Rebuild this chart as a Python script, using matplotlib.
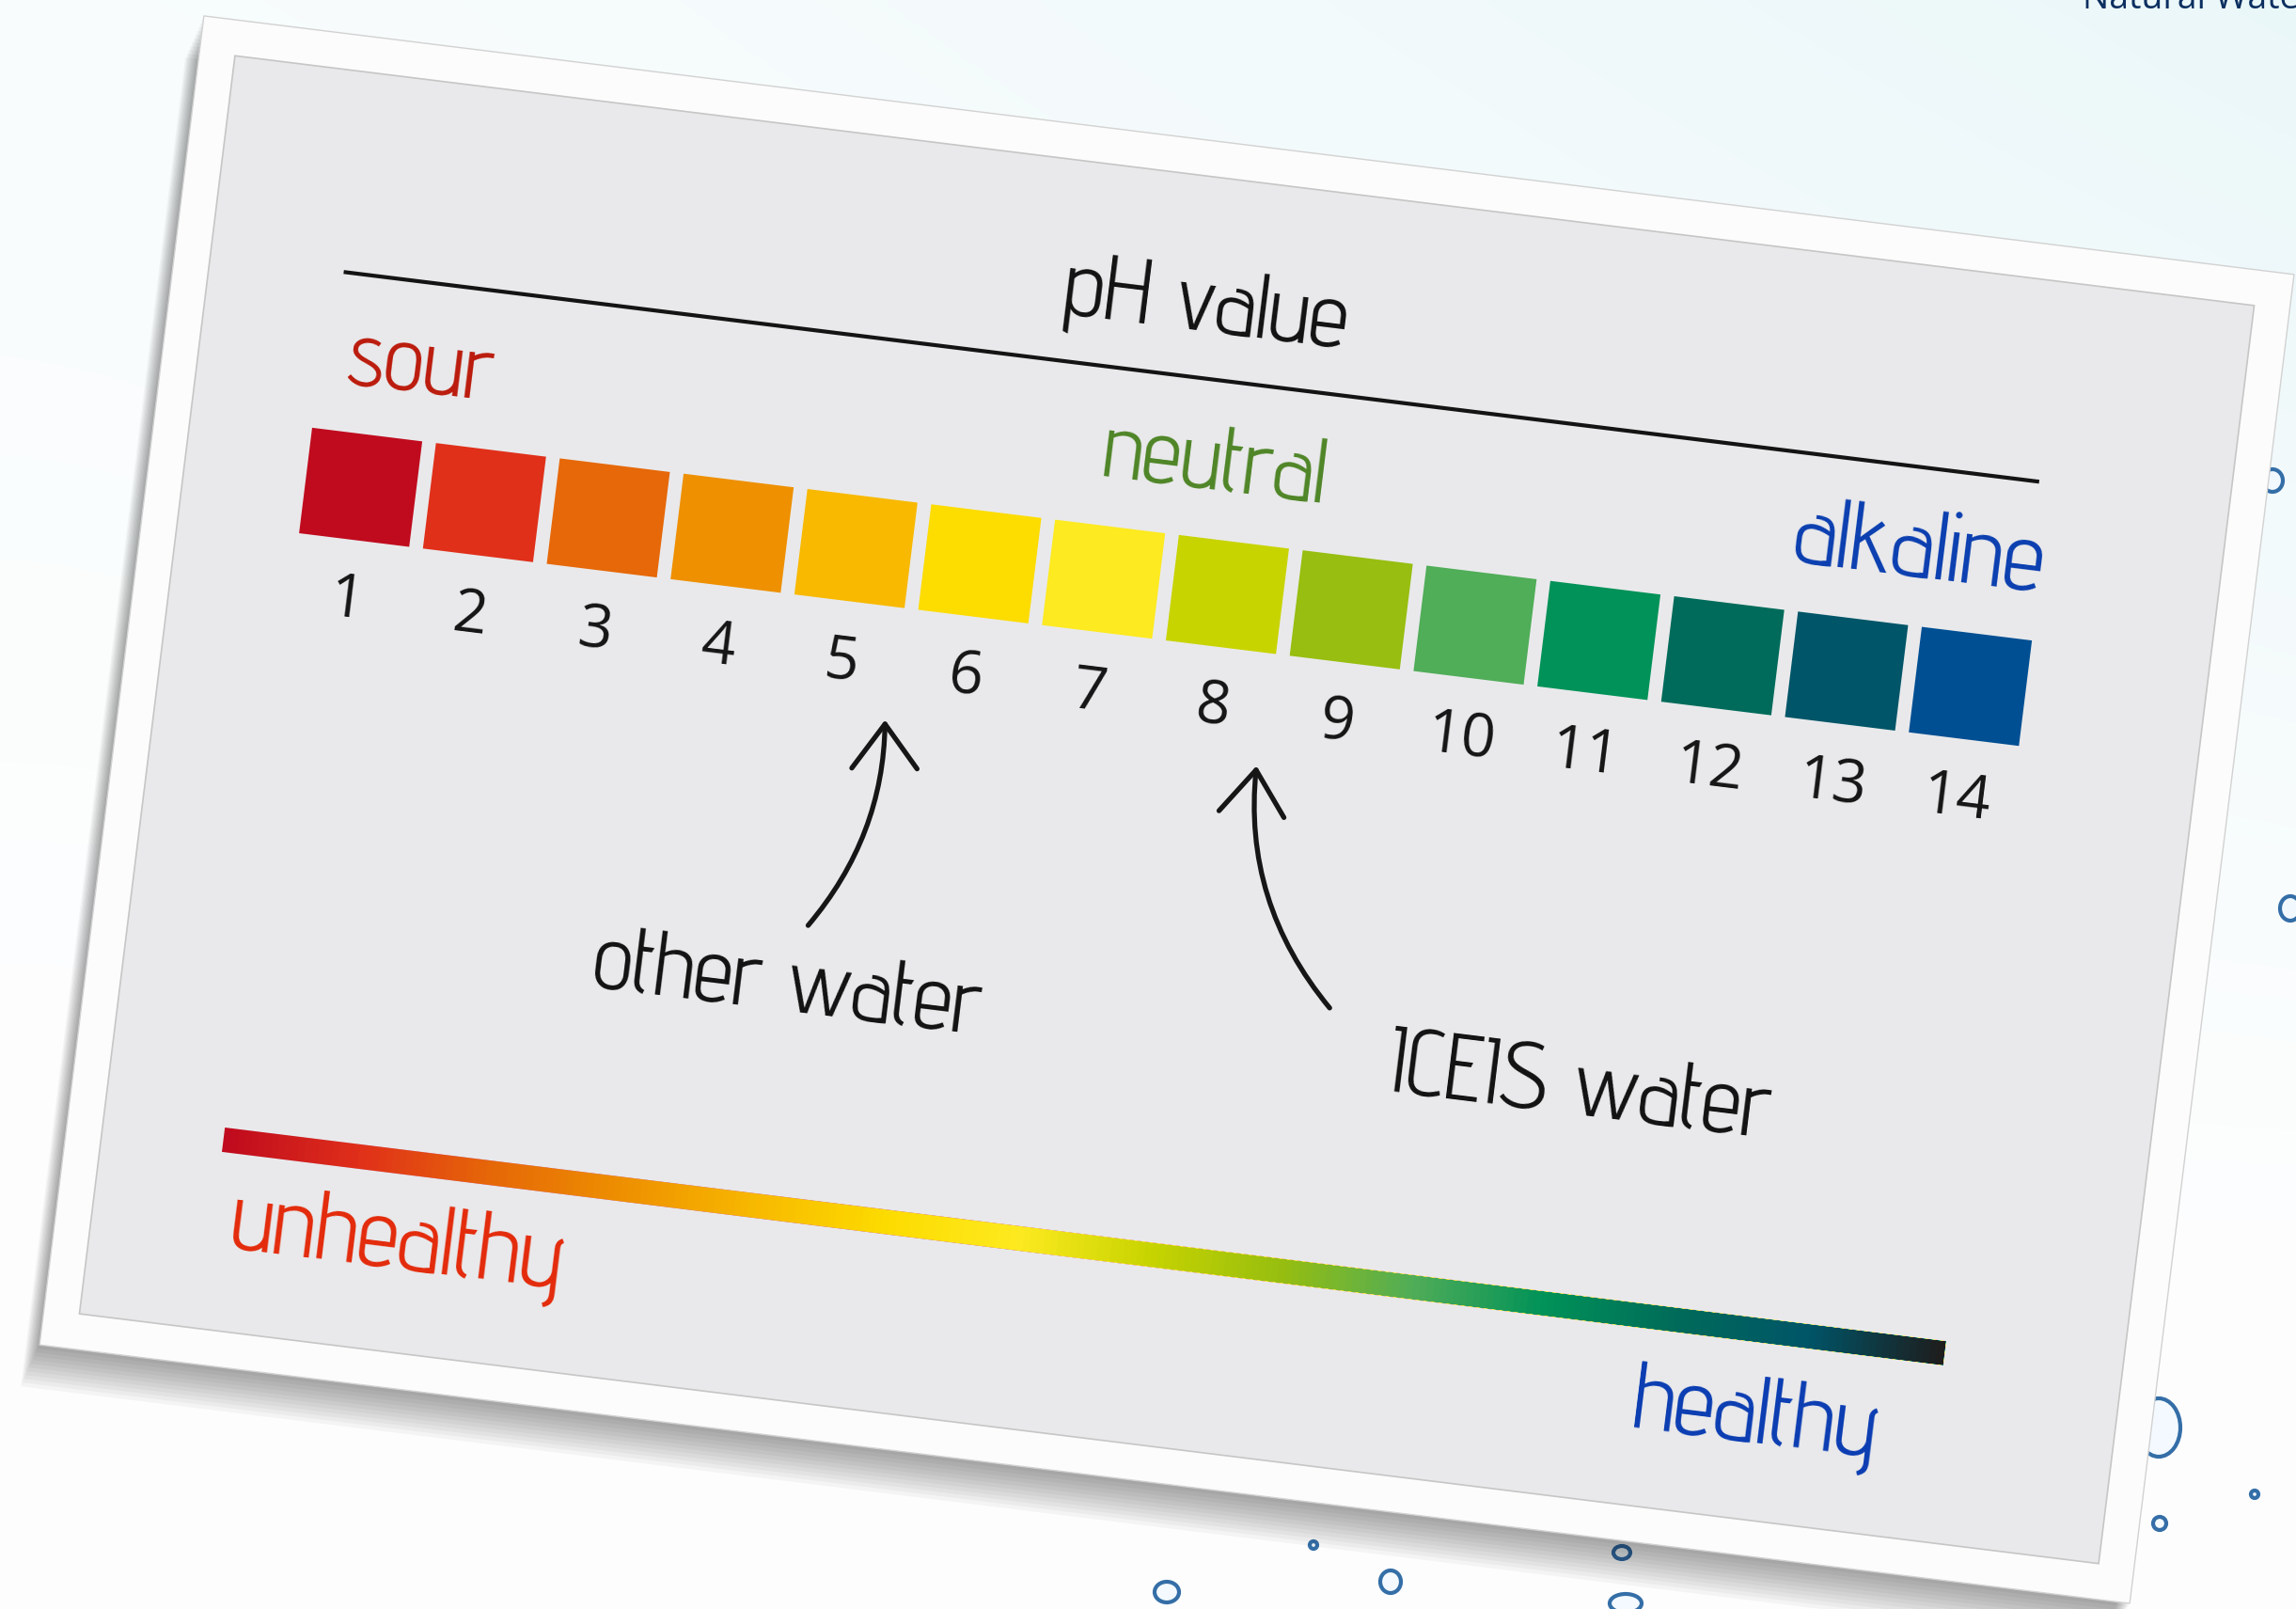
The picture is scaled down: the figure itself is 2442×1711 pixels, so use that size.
import numpy as np
import matplotlib
matplotlib.use("Agg")
import matplotlib.pyplot as plt
from matplotlib.transforms import Affine2D
from matplotlib.patches import Rectangle, FancyArrowPatch, Ellipse
from matplotlib.colors import LinearSegmentedColormap

# ---------------- data ----------------
ph_values = list(range(1, 15))
ph_labels = [str(v) for v in ph_values]
ph_colors = ['#c00b1e', '#e0301a', '#e66808', '#ee9000', '#f8b900', '#fddc00',
             '#fdea20', '#c8d400', '#97be10', '#50ad58', '#009258', '#006b5a',
             '#005568', '#004f93']
health_colors = ph_colors[:13] + ['#1e1e1e']

title_text = 'pH value'
scale_names = ['sour', 'neutral', 'alkaline']
scale_colors = ['#bb1a0b', '#4e8526', '#0a3eb0']
health_names = ['unhealthy', 'healthy']
health_text_colors = ['#e32a0a', '#0a3cb2']
marker_names = ['other water', 'ICEIS water']
marker_ph = [5.4, 8.4]
corner_text = 'Natural Water'

# ---------------- figure ----------------
W, H, DPI = 2442, 1711, 100
fig = plt.figure(figsize=(W / DPI, H / DPI), dpi=DPI)
ax = fig.add_axes([0, 0, 1, 1])
ax.set_xlim(0, W)
ax.set_ylim(H, 0)
ax.set_autoscale_on(False)
ax.axis('off')

# background: faint watery gradient, mostly white on the left
yy, xx = np.mgrid[0:H:4, 0:W:4].astype(float)
t = (np.clip(1 - yy / H * 1.6, 0, 1) * 0.25
     + np.clip(xx / W, 0, 1) ** 1.5 * np.clip(1 - yy / H * 1.3, 0, 1) * 0.7)
white = np.array([0.993, 0.996, 0.997])
cyan = np.array([0.915, 0.968, 0.975])
bg = white[None, None, :] * (1 - t[..., None]) + cyan[None, None, :] * t[..., None]
ax.imshow(bg, extent=(0, W, H, 0), aspect='auto', interpolation='bilinear', zorder=0)

# droplets (background decoration)
droplets = [(2417, 511, 22, 24), (2289, 732, 24, 22), (2348, 774, 8, 8), (2436, 966, 22, 26),
            (2296, 1518, 46, 62), (2297, 1620, 14, 14), (2398, 1589, 8, 8),
            (1241, 1693, 26, 22), (1479, 1682, 22, 24), (1725, 1651, 18, 14),
            (1729, 1705, 34, 20), (1397, 1643, 8, 8)]
for (dx, dy, dw, dh) in droplets:
    ax.add_patch(Ellipse((dx, dy), dw, dh, facecolor='#f2f9ff', edgecolor='#1f5f9e',
                         lw=3, alpha=0.9, zorder=1))

ax.text(2215, 9, corner_text, fontsize=27, color='#0b2f60', family=['Open Sans', 'DejaVu Sans'],
        ha='left', va='baseline', zorder=1)

# ---------------- card frame (rotated) ----------------
theta = 7.05
T_card = Affine2D().rotate_deg(theta).translate(1241, 861) + ax.transData
step = 132.7
x_first = -893.0
T_ph = Affine2D().scale(step, 1).translate(x_first - step, 0) + T_card

outer_w, outer_h = 2240, 1424
inner_w, inner_h = 2164, 1348
for i in range(12):
    ax.add_patch(Rectangle((-outer_w / 2 - 1.3 * i, -outer_h / 2 + 4.2 * i), outer_w, outer_h,
                           facecolor='black', edgecolor='none', alpha=0.035,
                           transform=T_card, zorder=2))
ax.add_patch(Rectangle((-outer_w / 2, -outer_h / 2), outer_w, outer_h, facecolor='#fcfcfc',
                       edgecolor='#d2d2d2', lw=1.0, transform=T_card, zorder=3))
ax.add_patch(Rectangle((-inner_w / 2, -inner_h / 2), inner_w, inner_h, facecolor='#e9e9eb',
                       edgecolor='#c6c6c6', lw=1.2, transform=T_card, zorder=4))

renderer = fig.canvas.get_renderer()
label_family = ['Advent Pro', 'Saira Condensed', 'Barlow Condensed', 'Roboto Condensed',
                'Open Sans Condensed', 'DejaVu Sans']


def fit_text(x, y, s, target_w, color, transform, weight=300, zorder=6):
    tx = ax.text(x, y, s, transform=transform, color=color, family=label_family,
                 fontweight=weight, fontsize=60, ha='center', va='baseline', zorder=zorder)
    bb = tx.get_window_extent(renderer)
    tx.set_fontsize(60 * target_w / bb.width)
    tx.set_rotation(-theta)
    tx.set_rotation_mode('anchor')
    return tx


# title and rule
fit_text(-24, -510, title_text, 304, '#111111', T_card)
ax.plot([-939, 878], [-460, -460], color='#141414', lw=3.0, solid_capstyle='butt',
        transform=T_card, zorder=5)

# scale names
scale_x = [-845, 5, 760]
scale_w = [158, 240, 268]
for name, col, xx_, ww in zip(scale_names, scale_colors, scale_x, scale_w):
    fit_text(xx_, -343, name, ww, col, T_card)

# colour squares
sq_w = 118 / step
ax.bar(ph_values, 113, width=sq_w, bottom=-291.5, color=ph_colors, edgecolor='none',
       transform=T_ph, zorder=5)
for v, lab in zip(ph_values, ph_labels):
    ax.text(v, -96, lab, transform=T_ph, fontsize=46, color='#141414',
            family=['Open Sans', 'Noto Sans', 'DejaVu Sans'], ha='center', va='baseline',
            rotation=-theta, rotation_mode='anchor', zorder=6)

# arrows
arrow_tails = [(4.99, 169), (9.22, 188)]
arrow_rads = [0.18, -0.21]
for ph, tail, rad in zip(marker_ph, arrow_tails, arrow_rads):
    ax.add_patch(FancyArrowPatch(posA=tail, posB=(ph, -58), connectionstyle=f'arc3,rad={rad}',
                                 arrowstyle='->,head_length=3.4,head_width=2.5', mutation_scale=10,
                                 lw=3.8, color='#161616', shrinkA=0, shrinkB=0,
                                 capstyle='round', joinstyle='round', transform=T_ph, zorder=6))

marker_pos = [(-377, 262), (473, 268)]
marker_w = [416, 410]
for name, (mx, my), ww in zip(marker_names, marker_pos, marker_w):
    fit_text(mx, my, name, ww, '#111111', T_card)

# health gradient bar
grad = np.linspace(0, 1, 600).reshape(1, -1)
cmap = LinearSegmentedColormap.from_list('health', health_colors)
ax.imshow(grad, cmap=cmap, extent=(-953, 891, 485, 459), transform=T_card, aspect='auto',
          interpolation='bilinear', zorder=5)

health_pos = [(-755, 585), (701, 591)]
health_w = [358, 264]
for name, col, (hx, hy), ww in zip(health_names, health_text_colors, health_pos, health_w):
    fit_text(hx, hy, name, ww, col, T_card)

fig.savefig('out.png', dpi=DPI)
